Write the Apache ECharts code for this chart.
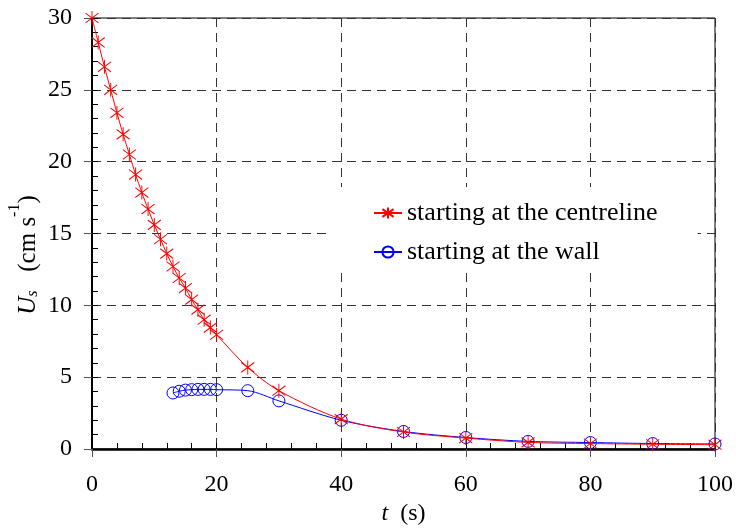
<!DOCTYPE html>
<html>
<head>
<meta charset="utf-8">
<script src="https://cdn.jsdelivr.net/npm/echarts@6/dist/echarts.min.js"></script>
<style>html,body{margin:0;padding:0;background:#fff}#c{width:736px;height:531px}</style>
</head>
<body>
<div id="c"></div>
<script>
// Data
var tCentre = [0,1,2,3,4,5,6,7,8,9,10,11,12,13,14,15,16,17,18,19,20,25,30,40,50,60,70,80,90,100];
var uCentre = [30,28.3,26.6,25.0,23.4,21.9,20.5,19.1,17.85,16.7,15.6,14.6,13.6,12.7,11.9,11.2,10.4,9.7,9.0,8.45,7.95,5.68,4.06,2.08,1.18,0.76,0.46,0.38,0.33,0.3];
var tWall = [13,14,15,16,17,18,19,20,25,30,40,50,60,70,80,90,100];
var uWall = [3.9,4.02,4.1,4.13,4.15,4.15,4.15,4.13,4.06,3.35,2.0,1.22,0.8,0.53,0.45,0.38,0.35];
var xTicks = [0,20,40,60,80,100];
var yTicks = [0,5,10,15,20,25,30];
var seriesNames = ['starting at the centreline','starting at the wall'];

function pairs(xs, ys){ return xs.map(function(x,i){ return [x, ys[i]]; }); }

var FONT = 'Liberation Serif';
var chart = echarts.init(document.getElementById('c'), null, {renderer:'canvas'});
var starPath = 'path://M5 0 L5 10 M1.5 1.5 L8.5 8.5 M8.5 1.5 L1.5 8.5';

chart.setOption({
  animation:false,
  backgroundColor:'#fff',
  grid:{left:92,right:20,top:18,bottom:82,show:true,borderColor:'#000',borderWidth:1,backgroundColor:'transparent'},
  legend:{
    orient:'vertical', left:332, top:187, itemWidth:28, itemHeight:14, itemGap:13,
    padding:[13,40,8,41],
    backgroundColor:'#fff',
    data:seriesNames,
    textStyle:{fontFamily:FONT,fontSize:26,color:'#000',lineHeight:26}
  },
  xAxis:[{
    type:'value', min:xTicks[0], max:xTicks[xTicks.length-1], interval:20,
    axisLine:{show:true,onZero:false,lineStyle:{color:'#000',width:2.5}},
    axisTick:{show:true,inside:false,length:8,lineStyle:{color:'#555',width:1}},
    axisLabel:{fontFamily:FONT,fontSize:24,color:'#000',margin:24},
    splitLine:{show:true,lineStyle:{color:'#333',type:[9,6],width:1}},
    name:'{i|t}{n|  (s)}', nameLocation:'middle', nameGap:52,
    nameTextStyle:{rich:{i:{fontFamily:FONT,fontSize:24,fontStyle:'italic',color:'#000'},n:{fontFamily:FONT,fontSize:24,color:'#000'}}}
  },{
    type:'value', min:0, max:100, interval:4, position:'bottom',
    axisLine:{show:false}, axisLabel:{show:false}, splitLine:{show:false},
    axisTick:{show:true,inside:true,length:6,lineStyle:{color:'#000',width:1}}
  }],
  yAxis:[{
    type:'value', min:yTicks[0], max:yTicks[yTicks.length-1], interval:5,
    axisLine:{show:true,onZero:false,lineStyle:{color:'#000',width:2}},
    axisTick:{show:true,inside:false,length:8,lineStyle:{color:'#555',width:1}},
    axisLabel:{fontFamily:FONT,fontSize:24,color:'#000',margin:20},
    splitLine:{show:true,lineStyle:{color:'#333',type:[9,6],width:1}}
  },{
    type:'value', min:0, max:30, interval:1, position:'left',
    axisLine:{show:false}, axisLabel:{show:false}, splitLine:{show:false},
    axisTick:{show:true,inside:true,length:6,lineStyle:{color:'#000',width:1}}
  }],
  graphic:[{
    type:'text', x:24, y:255, rotation:Math.PI/2,
    style:{
      text:'{u|U}{s|s}{n|   (cm s}{p|-1}{n|)}',
      align:'center', verticalAlign:'middle',
      rich:{
        u:{fontFamily:FONT,fontSize:25,fontStyle:'italic',color:'#000',verticalAlign:'bottom',lineHeight:30},
        s:{fontFamily:FONT,fontSize:16,fontStyle:'italic',color:'#000',verticalAlign:'bottom',lineHeight:22},
        n:{fontFamily:FONT,fontSize:25,color:'#000',verticalAlign:'bottom',lineHeight:30},
        p:{fontFamily:FONT,fontSize:16,color:'#000',verticalAlign:'top',lineHeight:34}
      }
    }
  }],
  series:[{
    name:seriesNames[0], type:'line', z:4,
    data:pairs(tCentre,uCentre),
    smooth:0.3,
    symbol:starPath, symbolSize:[13,14], symbolKeepAspect:false,
    lineStyle:{color:'#ff0000',width:1},
    itemStyle:{color:'transparent',borderColor:'#ff0000',borderWidth:1},
    color:'#ff0000'
  },{
    name:seriesNames[1], type:'line', z:3,
    data:pairs(tWall,uWall),
    smooth:0.3,
    symbol:'circle', symbolSize:12,
    lineStyle:{color:'#0000ff',width:1},
    itemStyle:{color:'transparent',borderColor:'#0000ff',borderWidth:1},
    color:'#0000ff'
  }]
});
</script>
</body>
</html>
